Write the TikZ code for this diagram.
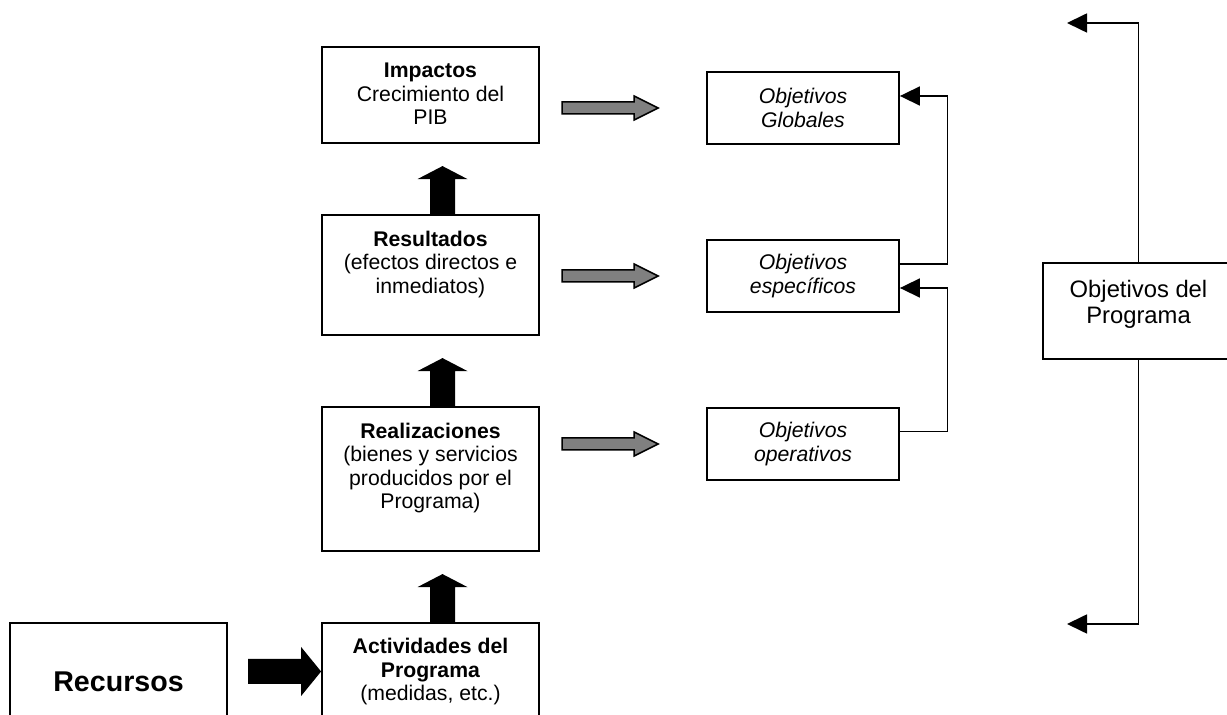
\documentclass[tikz,border=0pt]{standalone}
\usepackage{fontspec}
\setmainfont{Liberation Sans}
\usetikzlibrary{calc,arrows.meta}
\definecolor{arrgray}{HTML}{808080}
\begin{document}
\begin{tikzpicture}[x=0.5pt,y=-0.5pt,
  box/.style={draw,line width=0.9pt,inner sep=0pt},
  txt/.style={align=center,inner sep=0pt,font=\fontsize{10.6}{11.75}\selectfont},
  itx/.style={align=center,inner sep=0pt,font=\fontsize{10.6}{11.75}\selectfont\itshape},
  conn/.style={line width=0.85pt,-{Triangle[length=10pt,width=9.5pt]}},
  uparrow/.pic={\fill[black] (-12.5,0) -- (-12.5,-35) -- (-25,-35) -- (0,-48) -- (25,-35) -- (12.5,-35) -- (12.5,0) -- cycle;},
  rightblk/.pic={\fill[black] (-73,-12.5) -- (-20,-12.5) -- (-20,-24.5) -- (0,0) -- (-20,24.5) -- (-20,12.5) -- (-73,12.5) -- cycle;},
  grayarr/.pic={\filldraw[fill=arrgray,draw=black,line width=0.75pt] (-96,-6) -- (-24,-6) -- (-24,-12) -- (0,0) -- (-24,12) -- (-24,6) -- (-96,6) -- cycle;},
]
\useasboundingbox (0,0) rectangle (1227,715);
\clip (0,0) rectangle (1227,715);

% left column boxes
\node[box,minimum width=108.5pt,minimum height=48pt] (imp) at (430.5,95) {};
\node[box,minimum width=108.5pt,minimum height=60pt] (res) at (430.5,275) {};
\node[box,minimum width=108.5pt,minimum height=72pt] (rea) at (430.5,479) {};
\node[box,minimum width=108.5pt,minimum height=70pt] (act) at (430.5,693) {};
\node[box,minimum width=108.5pt,minimum height=70pt] (rec) at (118.5,693) {};

\node[txt,anchor=north] (impt) at ($(imp.north)+(0,16.5)$) {\textbf{Impactos}\\Crecimiento del\\PIB};
\node[txt,anchor=north] (rest) at ($(res.north)+(0,16.5)$) {\textbf{Resultados}\\(efectos directos e\\inmediatos)};
\node[txt,anchor=north] (reat) at ($(rea.north)+(0,16.5)$) {\textbf{Realizaciones}\\(bienes y servicios\\producidos por el\\Programa)};
\node[txt,anchor=north] (actt) at ($(act.north)+(0,16)$) {\textbf{Actividades del}\\\textbf{Programa}\\(medidas, etc.)};
\node[inner sep=0pt,font=\fontsize{14.3}{16}\selectfont\bfseries] (rect) at (118.5,682) {Recursos};

% objectives boxes
\node[box,itx,minimum width=96pt,minimum height=36pt] (glo) at (803,108) {Objetivos\\Globales};
\node[box,itx,minimum width=96pt,minimum height=36pt] (esp) at (803,276) {Objetivos\\específicos};
\node[box,itx,minimum width=96pt,minimum height=36pt] (ope) at (803,444) {Objetivos\\operativos};

% programme objectives
\node[box,minimum width=95.5pt,minimum height=48pt] (prog) at (1138.5,311) {};
\node[anchor=north,align=center,inner sep=0pt,font=\fontsize{11.9}{13}\selectfont] (progt) at ($(prog.north)+(0,17.5)$) {Objetivos del\\Programa};

% black block arrows
\pic at ($(res.north)+(12,0)$) {uparrow};
\pic at ($(rea.north)+(12,0)$) {uparrow};
\pic at ($(act.north)+(12,0)$) {uparrow};
\pic at ($(act.west)+(0,-21.5)$) {rightblk};

% gray block arrows
\pic at ($(glo.west)+(-48,0)$) {grayarr};
\pic at ($(esp.west)+(-48,0)$) {grayarr};
\pic at ($(ope.west)+(-48,0)$) {grayarr};

% thin connectors
\draw[conn] ($(esp.east)+(0,-12)$) -- ++(47.5,0) |- ($(glo.east)+(0,-12)$);
\draw[conn] ($(ope.east)+(0,-12.5)$) -- ++(47.5,0) |- ($(esp.east)+(0,12)$);
\coordinate (ttop) at (1067,23);
\coordinate (tbot) at (1067,624);
\draw[conn] (prog.north) |- (ttop);
\draw[conn] (prog.south) |- (tbot);
\end{tikzpicture}
\end{document}
